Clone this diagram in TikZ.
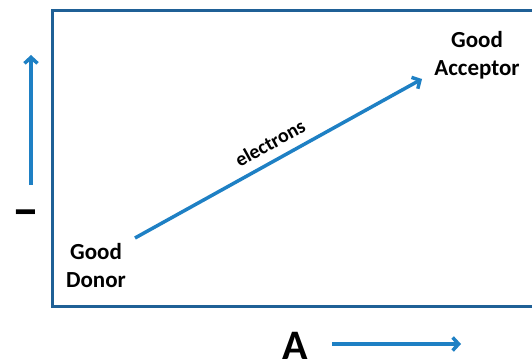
\documentclass[tikz,border=0pt]{standalone}
\usepackage{fontspec}
\setmainfont{Carlito}
\usetikzlibrary{arrows.meta}
\definecolor{arrowblue}{RGB}{30,128,196}
\definecolor{boxblue}{RGB}{31,96,150}
\tikzset{
  bluearrow/.style={draw=arrowblue, line width=3.5pt, -{Straight Barb[length=6pt,width=13pt,line width=3.5pt]}},
  lbl/.style={font=\bfseries\fontsize{23}{28}\selectfont, align=center, inner sep=0pt}
}
\begin{document}
\begin{tikzpicture}[x=1pt,y=-1pt]
\useasboundingbox (0,0) rectangle (532,361);
% frame
\draw[boxblue, line width=3pt] (533,11) -- (52,11) -- (52,306) -- (533,306);
% labels
\node[lbl] (donor) at (96,266) {Good\\Donor};
\node[lbl] (acceptor) at (477,55) {Good\\Acceptor};
\coordinate (s) at (135,238);
\coordinate (e) at (422,79);
\draw[bluearrow] (s) -- (e);
\node[font=\bfseries\fontsize{20}{24}\selectfont, rotate=29, inner sep=0pt] (el) at (270,143) {electrons};
% vertical axis
\coordinate (v1) at (31,185);
\coordinate (v2) at (31,55);
\draw[bluearrow] (v1) -- (v2);
\node[font=\bfseries\fontsize{54}{54}\selectfont, inner sep=0pt] (minus) at (26,219) {–};
% horizontal axis
\node[font=\bfseries\fontsize{42}{42}\selectfont, inner sep=0pt, anchor=base] (A) at (295,359) {A};
\coordinate (h1) at (332,344);
\coordinate (h2) at (461,344);
\draw[bluearrow] (h1) -- (h2);
\end{tikzpicture}
\end{document}
